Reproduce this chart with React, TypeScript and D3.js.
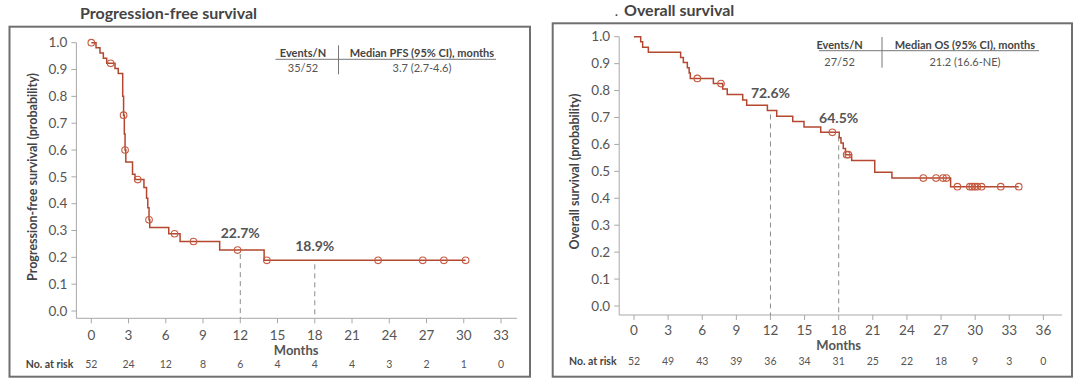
import React from 'react';
import * as d3 from 'd3';

// PFS Kaplan-Meier steps (months, probability)
const pfsTimes = [0, 0.38, 0.7, 0.97, 1.24, 1.91, 2.17, 2.53, 2.6, 2.66, 2.72, 2.78, 3.32, 3.52, 4.24, 4.45, 4.55, 4.65, 4.71, 6.24, 7.15, 10.34, 13.92, 30.15];
const pfsSurv = [1.0, 0.981, 0.962, 0.942, 0.923, 0.904, 0.885, 0.8, 0.73, 0.66, 0.6, 0.555, 0.51, 0.49, 0.46, 0.42, 0.385, 0.34, 0.311, 0.288, 0.259, 0.227, 0.189, 0.189];
const pfsCensorTimes = [0, 1.56, 2.6, 2.72, 3.74, 4.65, 6.71, 8.23, 11.78, 14.14, 23.1, 26.7, 28.4, 30.15];
const pfsCensorSurv = [1.0, 0.923, 0.73, 0.6, 0.49, 0.34, 0.288, 0.259, 0.227, 0.189, 0.189, 0.189, 0.189, 0.189];
const pfsAtRisk = [52, 24, 12, 8, 6, 4, 4, 4, 3, 2, 1, 0];
const pfsMarkTimes = [12, 18];
const pfsMarkSurv = [0.227, 0.189];
const pfsMarkLabels = ['22.7%', '18.9%'];

// OS Kaplan-Meier steps
const osTimes = [0, 0.59, 0.76, 1.26, 4.1, 4.34, 4.69, 4.85, 4.95, 6.98, 7.8, 8.2, 9.56, 9.91, 11.73, 12.55, 13.96, 14.95, 16.42, 18.05, 18.2, 18.4, 18.6, 19.14, 21.17, 22.68, 27.84, 33.83];
const osSurv = [1.0, 0.981, 0.961, 0.942, 0.923, 0.904, 0.885, 0.865, 0.845, 0.826, 0.806, 0.785, 0.765, 0.745, 0.726, 0.705, 0.685, 0.665, 0.645, 0.625, 0.605, 0.585, 0.562, 0.54, 0.497, 0.475, 0.443, 0.443];
const osCensorTimes = [5.57, 7.65, 17.44, 18.7, 18.85, 25.44, 26.56, 27.17, 27.47, 28.44, 29.53, 29.74, 29.95, 30.19, 30.56, 32.25, 33.83];
const osCensorSurv = [0.845, 0.826, 0.645, 0.562, 0.562, 0.475, 0.475, 0.475, 0.475, 0.443, 0.443, 0.443, 0.443, 0.443, 0.443, 0.443, 0.443];
const osAtRisk = [52, 49, 43, 39, 36, 34, 31, 25, 22, 18, 9, 3, 0];
const osMarkTimes = [12, 18];
const osMarkSurv = [0.726, 0.645];
const osMarkLabels = ['72.6%', '64.5%'];

const FONT = 'Lato, "DejaVu Sans", sans-serif';
const LINE = '#b4472f';
const CENSOR = '#c65a40';
const TXT = '#555';

interface PanelProps {
  title: string;
  titleX: number;
  titleY: number;
  box: [number, number, number, number];
  axisX: number;
  axisY: number;
  axisRight: number;
  xRange: [number, number];
  yRange: [number, number];
  xMax: number;
  yLabel: string;
  yLabelPos: [number, number];
  times: number[];
  surv: number[];
  censorT: number[];
  censorS: number[];
  atRisk: number[];
  markT: number[];
  markS: number[];
  markL: string[];
  markDy: number[];
  tickLabelY: number;
  monthsY: number;
  atRiskY: number;
  atRiskLabelX: number;
  tableCols: [number, number];
  tableDivider: number;
  tableLine: [number, number, number];
  tableRows: [number, number];
  tableHead: [string, string];
  tableVals: [string, string];
  titleDot?: boolean;
}

const Panel: React.FC<PanelProps> = p => {
  const x = d3.scaleLinear().domain([0, p.xMax]).range(p.xRange);
  const y = d3.scaleLinear().domain([0, 1]).range(p.yRange);
  const pts: [number, number][] = p.times.map((t, i) => [t, p.surv[i]]);
  const line = d3.line<[number, number]>().x(d => x(d[0])).y(d => y(d[1])).curve(d3.curveStepAfter);
  const xTicks = d3.range(0, p.xMax + 0.01, 3);
  const yTicks = d3.range(0, 11).map(i => i / 10);
  const [bx0, by0, bx1, by1] = p.box;

  return (
    <g>
      {p.titleDot ? (
        <text x={p.titleX - 9} y={p.titleY} fontFamily={FONT} fontWeight="bold" fontSize={12} fill="#444">.</text>
      ) : null}
      <text x={p.titleX} y={p.titleY} fontFamily={FONT} fontWeight="bold" fontSize={16} fill="#444">
        {p.title}
      </text>
      <rect x={bx0} y={by0} width={bx1 - bx0} height={by1 - by0} fill="#fff" stroke="#6f6f6f" strokeWidth={2} />

      {/* axes */}
      <line x1={p.axisX} x2={p.axisX} y1={y(1)} y2={p.axisY} stroke="#a8a8a8" strokeWidth={1} />
      <line x1={p.axisX} x2={p.axisRight} y1={p.axisY} y2={p.axisY} stroke="#a8a8a8" strokeWidth={1} />
      {yTicks.map(t => (
        <g key={'y' + t}>
          <line x1={p.axisX - 5} x2={p.axisX} y1={y(t)} y2={y(t)} stroke="#a8a8a8" />
          <text x={p.axisX - 9} y={y(t)} dy="0.35em" textAnchor="end" fontFamily={FONT} fontSize={13.5} fill={TXT}>
            {d3.format('.1f')(t)}
          </text>
        </g>
      ))}
      {xTicks.map(t => (
        <g key={'x' + t}>
          <line x1={x(t)} x2={x(t)} y1={p.axisY} y2={p.axisY + 5} stroke="#a8a8a8" />
          <text x={x(t)} y={p.tickLabelY} dy="0.35em" textAnchor="middle" fontFamily={FONT} fontSize={13.5} fill={TXT}>
            {t}
          </text>
        </g>
      ))}
      <text x={(x(0) + x(p.xMax)) / 2} y={p.monthsY} dy="0.35em" textAnchor="middle" fontFamily={FONT} fontWeight="bold" fontSize={13} fill="#555">
        Months
      </text>
      <text
        transform={`translate(${p.yLabelPos[0]},${p.yLabelPos[1]}) rotate(-90)`}
        dy="0.35em"
        textAnchor="middle"
        fontFamily={FONT}
        fontWeight="bold"
        fontSize={12.5}
        fill="#444"
      >
        {p.yLabel}
      </text>

      {/* number at risk */}
      <text x={p.atRiskLabelX} y={p.atRiskY} dy="0.35em" fontFamily={FONT} fontWeight="bold" fontSize={10.5} fill="#444">
        No. at risk
      </text>
      {p.atRisk.map((n, i) => (
        <text key={'r' + i} x={x(i * 3)} y={p.atRiskY} dy="0.35em" textAnchor="middle" fontFamily={FONT} fontSize={10.5} fill={TXT}>
          {n}
        </text>
      ))}

      {/* landmark dashed lines */}
      {p.markT.map((t, i) => (
        <g key={'m' + i}>
          <line x1={x(t)} x2={x(t)} y1={y(p.markS[i]) + 4} y2={p.axisY} stroke="#8c8c8c" strokeDasharray="5,4" strokeWidth={1} />
          <text x={x(t)} y={y(p.markS[i]) - p.markDy[i]} dy="0.35em" textAnchor="middle" fontFamily={FONT} fontWeight="bold" fontSize={14} fill="#555">
            {p.markL[i]}
          </text>
        </g>
      ))}

      {/* KM curve */}
      <path d={line(pts) || ''} fill="none" stroke={LINE} strokeWidth={1.5} />
      {p.censorT.map((t, i) => (
        <circle key={'c' + i} cx={x(t)} cy={y(p.censorS[i])} r={3.3} fill="none" stroke={CENSOR} strokeWidth={1.1} />
      ))}

      {/* median table */}
      <text x={p.tableCols[0]} y={p.tableRows[0]} dy="0.35em" textAnchor="middle" fontFamily={FONT} fontWeight="bold" fontSize={11} fill="#444">
        {p.tableHead[0]}
      </text>
      <text x={p.tableCols[1]} y={p.tableRows[0]} dy="0.35em" textAnchor="middle" fontFamily={FONT} fontWeight="bold" fontSize={11} fill="#444">
        {p.tableHead[1]}
      </text>
      <line x1={p.tableLine[0]} x2={p.tableLine[1]} y1={p.tableLine[2]} y2={p.tableLine[2]} stroke="#777" strokeWidth={1} />
      <line x1={p.tableDivider} x2={p.tableDivider} y1={p.tableRows[0] - 8} y2={p.tableRows[1] + 6} stroke="#777" strokeWidth={1} />
      <text x={p.tableCols[0]} y={p.tableRows[1]} dy="0.35em" textAnchor="middle" fontFamily={FONT} fontSize={11} fill="#555">
        {p.tableVals[0]}
      </text>
      <text x={p.tableCols[1]} y={p.tableRows[1]} dy="0.35em" textAnchor="middle" fontFamily={FONT} fontSize={11} fill="#555">
        {p.tableVals[1]}
      </text>
    </g>
  );
};

export default function App() {
  return (
    <svg width={1080} height={388} style={{ position: 'absolute', left: 0, top: 0, background: '#fff' }}>
      <Panel
        title="Progression-free survival"
        titleX={80}
        titleY={19}
        box={[9.5, 26.7, 530, 376.7]}
        axisX={76.4}
        axisY={318.3}
        axisRight={517}
        xRange={[91.3, 501]}
        yRange={[311, 42.7]}
        xMax={33}
        yLabel="Progression-free survival (probability)"
        yLabelPos={[32.7, 177]}
        times={pfsTimes}
        surv={pfsSurv}
        censorT={pfsCensorTimes}
        censorS={pfsCensorSurv}
        atRisk={pfsAtRisk}
        markT={pfsMarkTimes}
        markS={pfsMarkSurv}
        markL={pfsMarkLabels}
        markDy={[17, 14]}
        tickLabelY={335}
        monthsY={350}
        atRiskY={364}
        atRiskLabelX={25.8}
        tableCols={[303, 422]}
        tableDivider={338.5}
        tableLine={[275.5, 496, 59.3]}
        tableRows={[53.3, 68.3]}
        tableHead={['Events/N', 'Median PFS (95% CI), months']}
        tableVals={['35/52', '3.7 (2.7-4.6)']}
      />
      <Panel
        title="Overall survival"
        titleX={624}
        titleY={16}
        titleDot
        box={[552.7, 23.3, 1072, 376.7]}
        axisX={619.2}
        axisY={315}
        axisRight={1062}
        xRange={[634, 1043.4]}
        yRange={[306, 36.7]}
        xMax={36}
        yLabel="Overall survival (probability)"
        yLabelPos={[574.4, 171.5]}
        times={osTimes}
        surv={osSurv}
        censorT={osCensorTimes}
        censorS={osCensorSurv}
        atRisk={osAtRisk}
        markT={osMarkTimes}
        markS={osMarkSurv}
        markL={osMarkLabels}
        markDy={[17, 14]}
        tickLabelY={330.7}
        monthsY={345}
        atRiskY={361.7}
        atRiskLabelX={569}
        tableCols={[839.6, 965]}
        tableDivider={882}
        tableLine={[819, 1039, 50.7]}
        tableRows={[45, 61.7]}
        tableHead={['Events/N', 'Median OS (95% CI), months']}
        tableVals={['27/52', '21.2 (16.6-NE)']}
      />
    </svg>
  );
}
